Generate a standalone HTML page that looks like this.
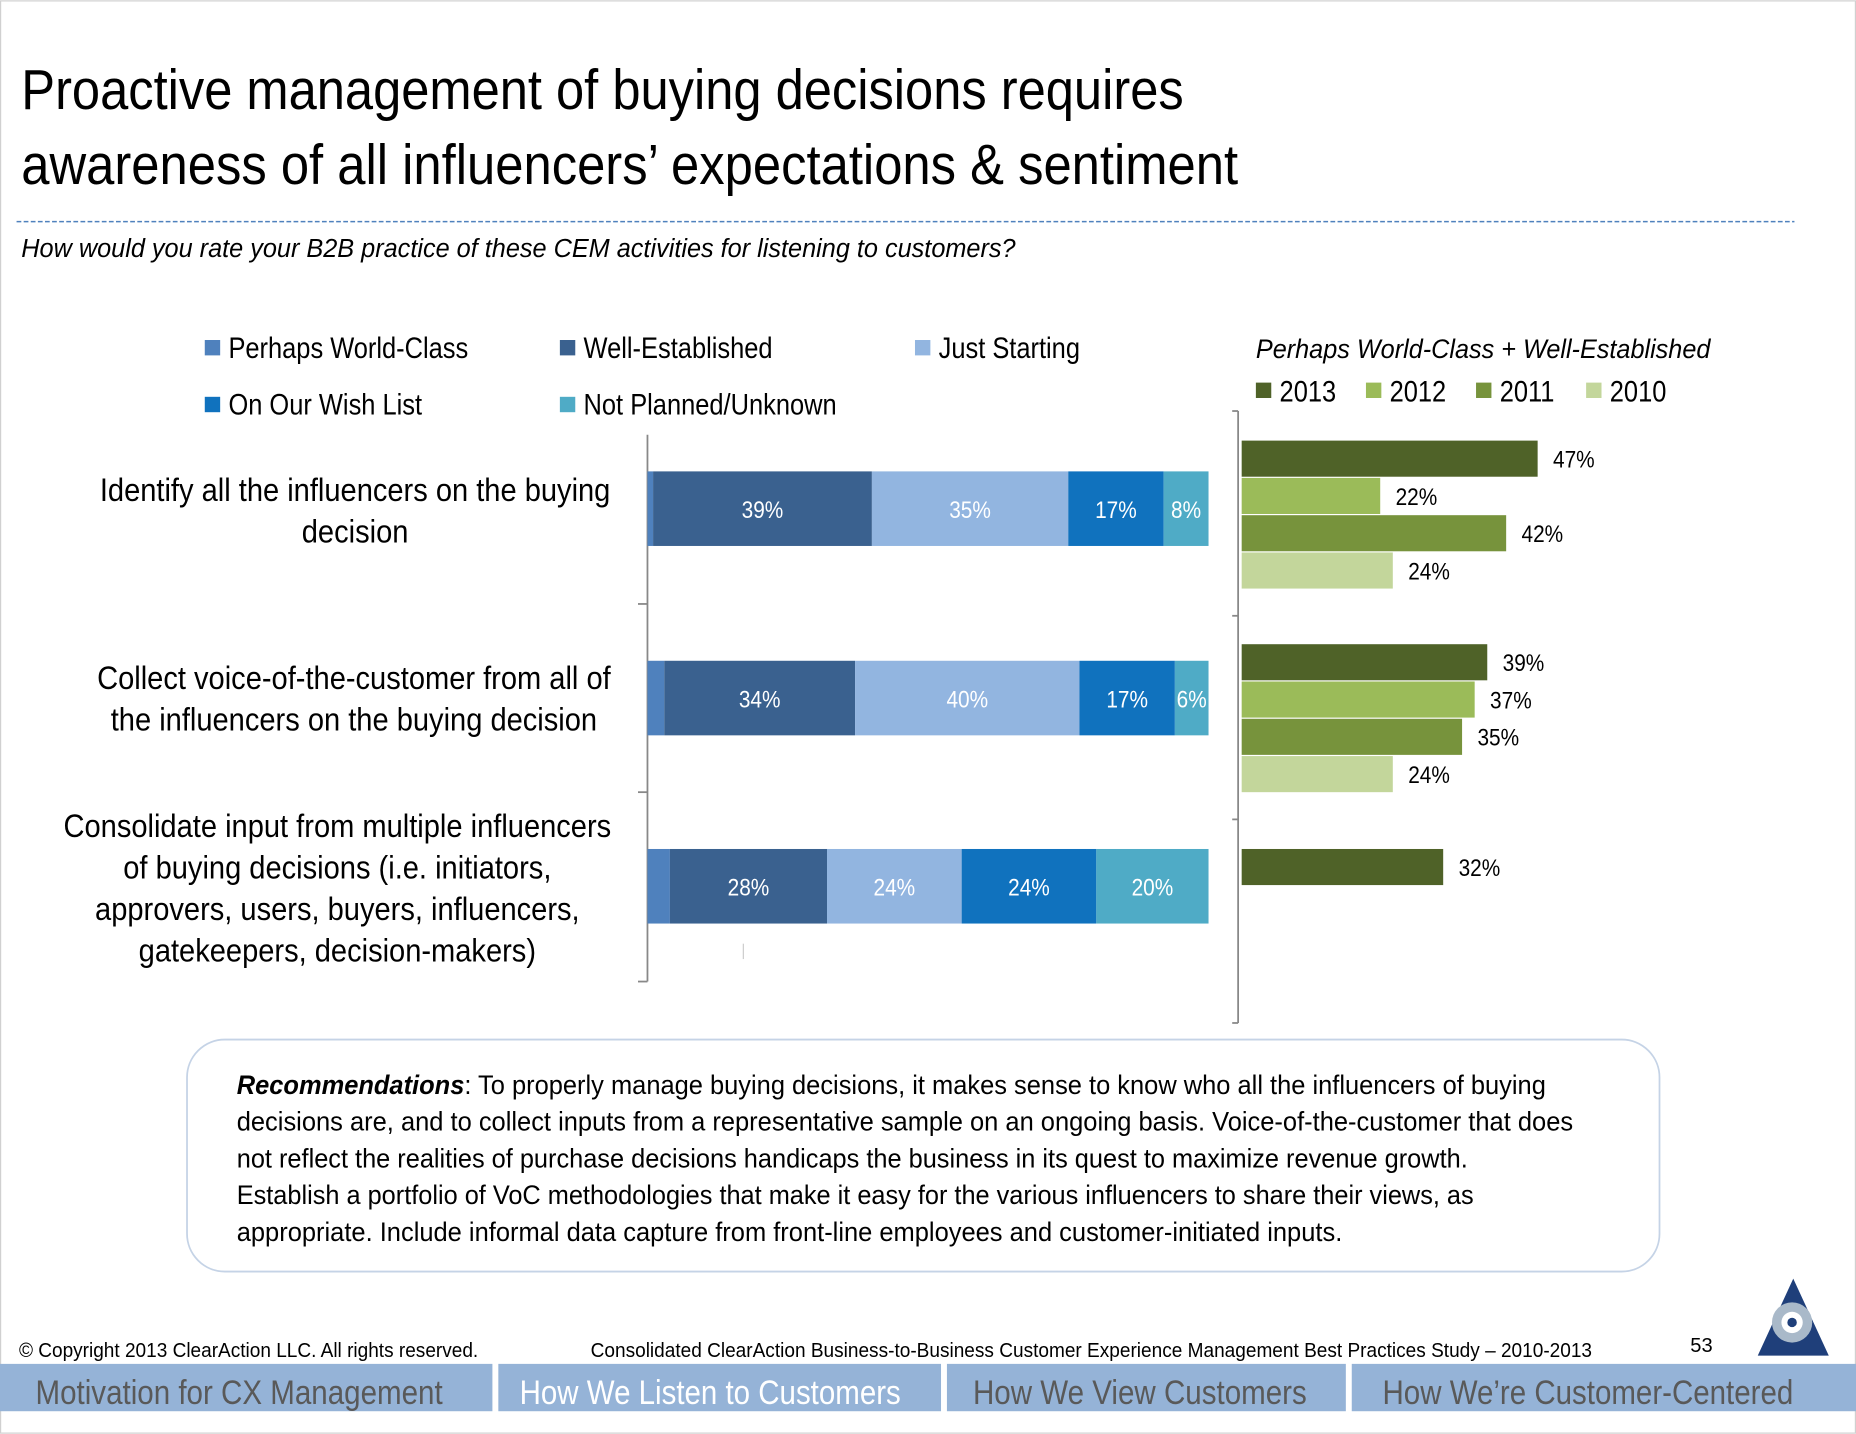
<!DOCTYPE html>
<html><head><meta charset="utf-8"><style>
html,body{margin:0;padding:0;background:#fff;}
svg{display:block;font-family:"Liberation Sans Narrow","Liberation Sans",sans-serif;}
</style></head><body>
<svg id="s" width="1856" height="1434" viewBox="0 0 1568 1211" xmlns="http://www.w3.org/2000/svg">
<rect x="0.5" y="0.5" width="1567" height="1210" fill="#fff" stroke="#d0d0d0"/>
<text x="18" y="92" font-size="48" fill="#000" textLength="982" lengthAdjust="spacingAndGlyphs">Proactive management of buying decisions requires</text>
<text x="18" y="155" font-size="48" fill="#000" textLength="1028" lengthAdjust="spacingAndGlyphs">awareness of all influencers’ expectations &amp; sentiment</text>
<line x1="14" y1="187" x2="1516" y2="187" stroke="#4f81bd" stroke-width="1.2" stroke-dasharray="4,2"/>
<text x="18" y="217" font-size="22" font-style="italic" fill="#000" textLength="840" lengthAdjust="spacingAndGlyphs">How would you rate your B2B practice of these CEM activities for listening to customers?</text>
<g id="legend"></g>
<g id="left"></g>
<g id="right"></g>
<g>
<rect x="158" y="878" width="1244" height="196" rx="32" fill="#fff" stroke="#c5d3e6" stroke-width="1.5"/>
<text x="200" y="924" font-size="23" textLength="1106" lengthAdjust="spacingAndGlyphs"><tspan font-weight="bold" font-style="italic">Recommendations</tspan>:  To properly manage buying decisions, it makes sense to know who all the influencers of buying</text>
<text x="200" y="955" font-size="23" textLength="1129" lengthAdjust="spacingAndGlyphs">decisions are, and to collect inputs from a representative sample on an ongoing basis.  Voice-of-the-customer that does</text>
<text x="200" y="986" font-size="23" textLength="1040" lengthAdjust="spacingAndGlyphs">not reflect the realities of purchase decisions handicaps the business in its quest to maximize revenue growth.</text>
<text x="200" y="1017" font-size="23" textLength="1045" lengthAdjust="spacingAndGlyphs">Establish a portfolio of VoC methodologies that make it easy for the various influencers to share their views, as</text>
<text x="200" y="1048" font-size="23" textLength="934" lengthAdjust="spacingAndGlyphs">appropriate.  Include informal data capture from front-line employees and customer-initiated inputs.</text>
</g>
<text x="16" y="1146" font-size="17" textLength="388" lengthAdjust="spacingAndGlyphs">© Copyright 2013 ClearAction LLC. All rights reserved.</text>
<text x="499" y="1146" font-size="17" textLength="846" lengthAdjust="spacingAndGlyphs">Consolidated ClearAction Business-to-Business Customer Experience Management Best Practices Study – 2010-2013</text>
<text x="1428" y="1142" font-size="17">53</text>
<g>
<polygon points="1515,1080 1545,1145 1485,1145" fill="#1f3f7a"/>
<circle cx="1514" cy="1117" r="17" fill="#a9b9c9"/>
<circle cx="1514" cy="1117" r="9" fill="#fff"/>
<circle cx="1514" cy="1117" r="4" fill="#1f3f7a"/>
</g>
<g>
<rect x="0" y="1152" width="416" height="40" fill="#95b3d7"/>
<rect x="421" y="1152" width="374" height="40" fill="#95b3d7"/>
<rect x="800" y="1152" width="337" height="40" fill="#95b3d7"/>
<rect x="1142" y="1152" width="426" height="40" fill="#95b3d7"/>
<text x="30" y="1186" font-size="29" fill="#595959" textLength="344" lengthAdjust="spacingAndGlyphs">Motivation for CX Management</text>
<text x="439" y="1186" font-size="29" fill="#fff" textLength="322" lengthAdjust="spacingAndGlyphs">How We Listen to Customers</text>
<text x="822" y="1186" font-size="29" fill="#595959" textLength="282" lengthAdjust="spacingAndGlyphs">How We View Customers</text>
<text x="1168" y="1186" font-size="29" fill="#595959" textLength="347" lengthAdjust="spacingAndGlyphs">How We’re Customer-Centered</text>
</g>
</svg>
<script>
const categories = [
  ["Identify all the influencers on the buying","decision"],
  ["Collect voice-of-the-customer from all of","the influencers on the buying decision"],
  ["Consolidate input from multiple influencers","of buying decisions (i.e. initiators,","approvers, users, buyers, influencers,","gatekeepers, decision-makers)"]
];
const seriesNames = ["Perhaps World-Class","Well-Established","Just Starting","On Our Wish List","Not Planned/Unknown"];
const worldClass = [1, 3, 4];
const wellEstablished = [39, 34, 28];
const justStarting = [35, 40, 24];
const wishList = [17, 17, 24];
const notPlanned = [8, 6, 20];
const years = ["2013","2012","2011","2010"];
const y2013 = [47, 39, 32];
const y2012 = [22, 37, null];
const y2011 = [42, 35, null];
const y2010 = [24, 24, null];

const NS = "http://www.w3.org/2000/svg";
function mk(tag, attrs, parent, txt){const e=document.createElementNS(NS,tag);for(const k in attrs)e.setAttribute(k,attrs[k]);if(txt!==undefined)e.textContent=txt;parent.appendChild(e);return e;}
function condense(t, ratio){try{const w=t.getComputedTextLength();t.setAttribute('textLength',(w*ratio).toFixed(1));t.setAttribute('lengthAdjust','spacingAndGlyphs');}catch(e){}}
const stackColors=["#4f81bd","#3a618f","#92b5e0","#1072be","#4fabc6"];
const yearColors=["#4f6228","#9bbb59","#77933c","#c3d69b"];
const NARROW=0.86;

// legend
const lg=document.getElementById('legend');
const legPos=[[173,287],[473,287],[773,287],[173,335],[473,335]];
seriesNames.forEach((n,i)=>{
  const r=mk('rect',{x:legPos[i][0],y:legPos[i][1],width:13,height:13,fill:stackColors[i]},lg);
  
  
  const t=mk('text',{x:legPos[i][0]+20,y:legPos[i][1]+15,'font-size':25},lg,n);
  
  
  condense(t,NARROW);
});
const rt=mk('text',{x:1061,y:302,'font-size':23,'font-style':'italic',textLength:384,lengthAdjust:'spacingAndGlyphs'},lg,"Perhaps World-Class + Well-Established");


years.forEach((y,i)=>{
  const x=1061+i*93;
  const r=mk('rect',{x:x,y:323,width:13,height:13,fill:yearColors[i]},lg);
  
  
  const t=mk('text',{x:x+20,y:339,'font-size':25},lg,y);
  
  
  condense(t,NARROW);
});

// left stacked chart
const L=document.getElementById('left');
const x0=547, pxPer=4.74;
const xs=v=>x0+v*pxPer;
const rowTop=[398,558,717], barH=63;
const series=[worldClass,wellEstablished,justStarting,wishList,notPlanned];
mk('line',{x1:x0,y1:367,x2:x0,y2:829,stroke:'#888','stroke-width':1.5},L);
[510,669,829].forEach(y=>mk('line',{x1:539,y1:y,x2:x0,y2:y,stroke:'#888','stroke-width':1.5},L));
mk('line',{x1:628,y1:797,x2:628,y2:810,stroke:'#ccc','stroke-width':1},L);
const catStart=[423,582,707];
const catCenter=[300,299,285];
categories.forEach((lines,c)=>{
  lines.forEach((ln,j)=>{
    const t=mk('text',{x:catCenter[c],y:catStart[c]+j*35,'font-size':27,'text-anchor':'middle'},L,ln);
    
    
    condense(t,0.91);
  });
  let cum=0;
  series.forEach((s,i)=>{
    const v=s[c];
    const r=mk('rect',{x:xs(cum),y:rowTop[c],width:v*pxPer,height:barH,fill:stackColors[i]},L);
    
    
    if(i>0){
      const t=mk('text',{x:xs(cum+v/2),y:rowTop[c]+barH/2+8,'font-size':20,fill:'#fff','text-anchor':'middle'},L,v+'%');
      
      
      condense(t,0.88);
    }
    cum+=v;
  });
});

// right trend chart
const R=document.getElementById('right');
const rx0=1049, rPer=5.32;
mk('line',{x1:1046,y1:347,x2:1046,y2:864,stroke:'#888','stroke-width':1.5},R);
[347,520,692,864].forEach(y=>mk('line',{x1:1041,y1:y,x2:1046,y2:y,stroke:'#888','stroke-width':1.5},R));
const groupTop=[372,544,717], bh=31.5;
const ySeries=[y2013,y2012,y2011,y2010];
groupTop.forEach((gt,c)=>{
  ySeries.forEach((s,i)=>{
    const v=s[c]; if(v==null) return;
    const y=gt+i*bh;
    const r=mk('rect',{x:rx0,y:y,width:v*rPer,height:bh-1,fill:yearColors[i]},R);
    
    
    const t=mk('text',{x:rx0+v*rPer+13,y:y+bh/2+7,'font-size':20},R,v+'%');
    
    
    condense(t,0.88);
  });
});
</script>
</body></html>
